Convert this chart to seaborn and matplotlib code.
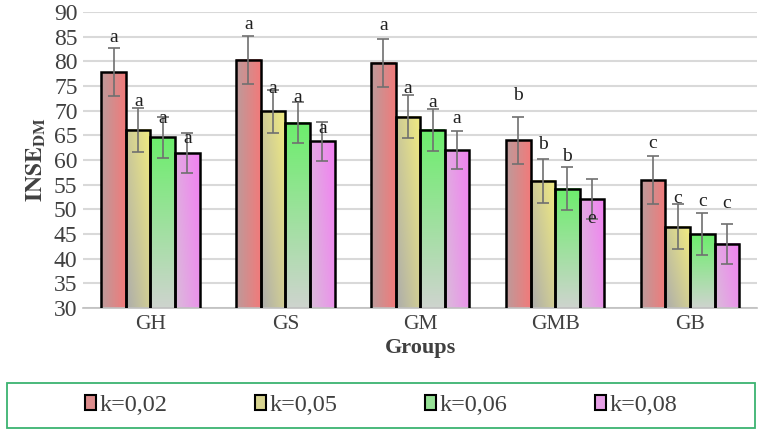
import numpy as np
import pandas as pd
import matplotlib
matplotlib.use("Agg")
import matplotlib.pyplot as plt
from matplotlib.patches import Patch, Rectangle
import seaborn as sns

groups = ["GH", "GS", "GM", "GMB", "GB"]
k_labels = ["k=0,02", "k=0,05", "k=0,06", "k=0,08"]

mean_k002 = [77.8, 80.3, 79.7, 64.0, 55.9]
mean_k005 = [66.1, 69.9, 68.8, 55.8, 46.5]
mean_k006 = [64.6, 67.6, 66.1, 54.2, 45.0]
mean_k008 = [61.4, 63.8, 62.0, 52.1, 43.0]

err_k002 = [4.9, 4.9, 4.9, 4.8, 4.9]
err_k005 = [4.4, 4.4, 4.4, 4.5, 4.5]
err_k006 = [4.2, 4.2, 4.2, 4.3, 4.3]
err_k008 = [4.0, 3.9, 3.9, 4.0, 4.0]

# significance letters and where they sit (data units)
let_k002 = ["a", "a", "a", "b", "c"]
let_k005 = ["a", "a", "a", "b", "c"]
let_k006 = ["a", "a", "a", "b", "c"]
let_k008 = ["a", "a", "a", "e", "c"]
lety_k002 = [84.9, 87.4, 87.2, 73.0, 63.4]
lety_k005 = [71.9, 74.6, 74.5, 63.2, 52.2]
lety_k006 = [68.5, 72.6, 71.6, 60.8, 51.5]
lety_k008 = [64.4, 66.4, 68.4, 48.2, 51.2]

# gradient: (bright colour, greyish colour, angle in degrees)
grad_styles = [
    ((242, 122, 122), (188, 155, 155), 0),
    ((242, 236, 128), (172, 172, 172), 40),
    ((108, 238, 108), (206, 212, 206), 90),
    ((242, 128, 242), (218, 188, 218), 25),
]
legend_cols = ["#DC8C8C", "#D8D490", "#96E196", "#E6A0E6"]

means = [mean_k002, mean_k005, mean_k006, mean_k008]
errs = [err_k002, err_k005, err_k006, err_k008]
letters = [let_k002, let_k005, let_k006, let_k008]
letys = [lety_k002, lety_k005, lety_k006, lety_k008]

rows = []
for k, vals in zip(k_labels, means):
    for g, v in zip(groups, vals):
        rows.append({"Group": g, "k": k, "value": v})
df = pd.DataFrame(rows)

sns.set_style("white")
plt.rcParams["font.family"] = ["Liberation Serif", "DejaVu Serif"]
plt.rcParams["mathtext.fontset"] = "stix"

fig = plt.figure(figsize=(7.62, 4.32), dpi=100)
ax = fig.add_axes([0.109, 0.287, 0.885, 0.685])

sns.barplot(data=df, x="Group", y="value", hue="k", order=groups,
            hue_order=k_labels, palette=legend_cols, errorbar=None,
            width=0.73, ax=ax, legend=False)

ymin, ymax = 30, 90
bar_sets = list(ax.containers)
for ci, cont in enumerate(bar_sets):
    top_c, low_c, ang = grad_styles[ci]
    top_c = np.array(top_c) / 255
    low_c = np.array(low_c) / 255
    a = np.deg2rad(ang)
    u, v = np.meshgrid(np.linspace(0, 1, 60), np.linspace(0, 1, 120))
    t = (np.cos(a) * u + np.sin(a) * v) / (np.cos(a) + np.sin(a))
    img = low_c[None, None, :] * (1 - t[..., None]) + top_c[None, None, :] * t[..., None]
    for j, bar in enumerate(cont):
        x0 = bar.get_x()
        w = bar.get_width()
        h = bar.get_height()
        ax.imshow(img, extent=[x0, x0 + w, ymin, h], origin="lower",
                  aspect="auto", zorder=2, interpolation="bilinear")
        bar.set_facecolor("none")
        bar.set_edgecolor("black")
        bar.set_linewidth(1.8)
        bar.set_zorder(3)
        xc = x0 + w / 2
        ax.errorbar(xc, h, yerr=errs[ci][j], color="#707070", lw=1.2,
                    capsize=4, capthick=1.2, zorder=4)
        ax.text(xc, letys[ci][j], letters[ci][j], ha="center", va="center",
                fontsize=14, color="#202020", zorder=5)

ax.set_xlim(-0.5, len(groups) - 0.5)
ax.set_ylim(ymin, ymax)
ax.set_yticks(range(30, 91, 5))
ax.yaxis.grid(True, color="#D9D9D9", lw=1.5)
ax.set_axisbelow(True)
for s in ["top", "right", "left"]:
    ax.spines[s].set_visible(False)
ax.spines["bottom"].set_color("#BFBFBF")
ax.spines["bottom"].set_linewidth(1.2)
ax.tick_params(axis="both", length=0, labelsize=17, colors="#404040")
ax.tick_params(axis="y", pad=4)
ax.tick_params(axis="x", pad=5, labelsize=15.5)
ax.set_xlabel("Groups", fontsize=16, fontweight="bold", color="#404040", labelpad=3)
ax.set_ylabel(r"$\mathbf{INSE}_{\mathbf{DM}}$", fontsize=17, color="#404040", labelpad=4)

fig.patches.append(Rectangle((7 / 762, 4 / 432), 748 / 762, 45 / 432,
                             transform=fig.transFigure, fill=False,
                             edgecolor="#3CB371", lw=1.3))
handles = [Patch(facecolor=c, edgecolor="black", lw=1.5) for c in legend_cols]
fig.legend(handles, k_labels, loc="center", bbox_to_anchor=(0.5, 26.5 / 432),
           ncol=4, frameon=False, fontsize=17.5, handlelength=0.45,
           handleheight=0.6, handletextpad=0.15, columnspacing=3.6,
           labelcolor="#404040")

fig.savefig("out.png", dpi=100)
